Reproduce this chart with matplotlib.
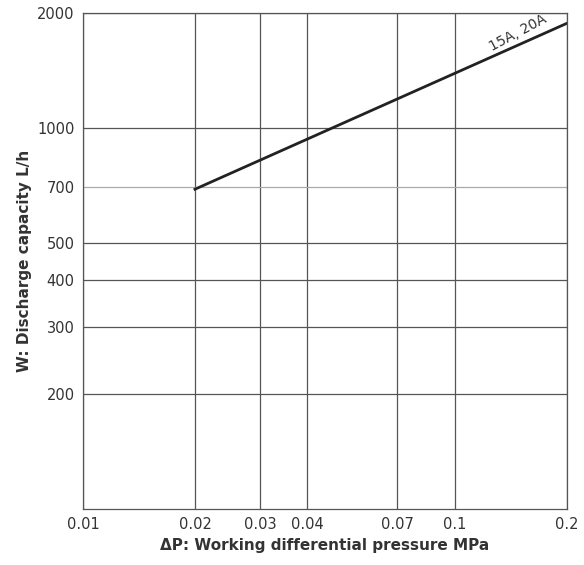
import matplotlib
matplotlib.use("Agg")
import matplotlib.pyplot as plt
from matplotlib.ticker import FixedLocator, FixedFormatter, NullLocator

x_ticks = [0.01, 0.02, 0.03, 0.04, 0.07, 0.1, 0.2]
x_labels = ["0.01", "0.02", "0.03", "0.04", "0.07", "0.1", "0.2"]
y_ticks = [200, 300, 400, 500, 700, 1000, 2000]
y_labels = ["200", "300", "400", "500", "700", "1000", "2000"]
line_x = [0.02, 0.2]
line_y = [690, 1880]

fig = plt.figure(figsize=(5.84, 5.65), dpi=100)
ax = fig.add_axes([0.142, 0.099, 0.829, 0.878])
ax.set_xscale("log"); ax.set_yscale("log")
ax.set_xlim(0.01, 0.2); ax.set_ylim(100, 2000)
ax.xaxis.set_major_locator(FixedLocator(x_ticks))
ax.xaxis.set_major_formatter(FixedFormatter(x_labels))
ax.yaxis.set_major_locator(FixedLocator(y_ticks))
ax.yaxis.set_major_formatter(FixedFormatter(y_labels))
ax.xaxis.set_minor_locator(NullLocator()); ax.yaxis.set_minor_locator(NullLocator())
ax.grid(True, color="#555555", linewidth=0.9)
ax.get_ygridlines()[4].set_color("#aaaaaa")
ax.tick_params(length=0, labelsize=10.5, colors="#333333", pad=6)
for s in ax.spines.values():
    s.set_color("#555555"); s.set_linewidth(0.9)
ax.plot(line_x, line_y, color="#222222", linewidth=2)
ax.text(0.148, 1560, "15A, 20A", rotation=28, fontsize=10, color="#333333", ha="center", va="bottom")
ax.set_xlabel("ΔP: Working differential pressure MPa", fontsize=11, fontweight="bold", color="#333333")
ax.set_ylabel("W: Discharge capacity L/h", fontsize=11, fontweight="bold", color="#333333")
fig.savefig("out.png", dpi=100)
